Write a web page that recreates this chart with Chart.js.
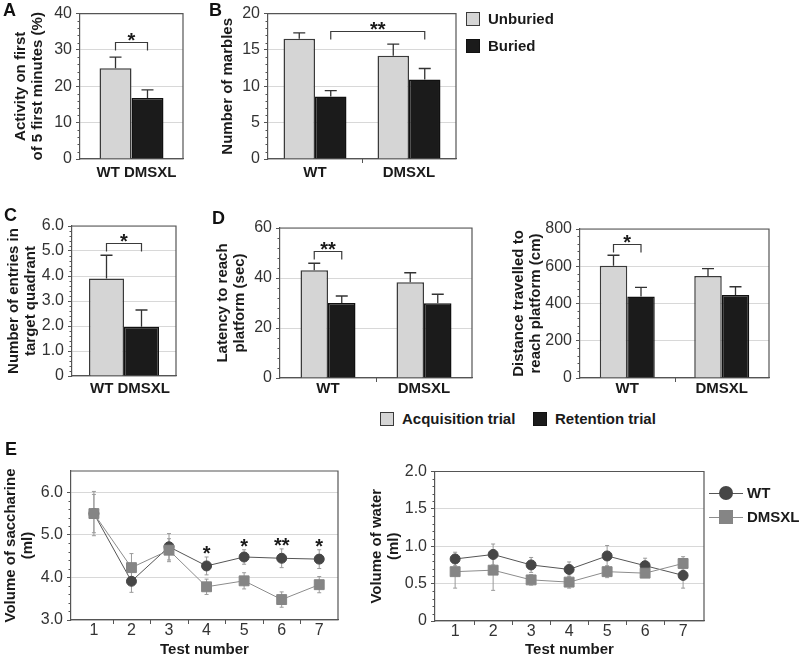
<!DOCTYPE html>
<html>
<head>
<meta charset="utf-8">
<script src="https://cdn.jsdelivr.net/npm/chart.js@4.4.1/dist/chart.umd.min.js"></script>
<style>
  body { margin: 0; width: 800px; height: 659px; overflow: hidden; position: relative; background: #fff;
         font-family: "Liberation Sans", Arial, Helvetica, sans-serif; }
  canvas { position: absolute; }
  .letter { position: absolute; font-weight: bold; font-size: 18px; line-height: 20px; color: #111; }
  .leg { position: absolute; display: flex; align-items: center; height: 18px; line-height: 18px;
         font-weight: bold; font-size: 15px; color: #1a1a1a; white-space: nowrap; }
  .sw { display: inline-block; width: 14px; height: 14px; box-sizing: border-box; margin-right: 8px; }
  .leg svg { margin-right: 4px; }
</style>
</head>
<body>
<script>
// ---- data ----
const groups = ['WT', 'DMSXL'];

// A: activity on first of 5 first minutes (%)
const activity = [25.0, 16.8];
const activityErr = [3.0, 2.2];

// B: marble burying
const marbleSeries = ['Unburied', 'Buried'];
const unburied = [16.55, 14.2];
const unburiedErr = [0.8, 1.6];
const buried = [8.6, 10.95];
const buriedErr = [0.8, 1.5];

// C: entries in target quadrant
const entries = [3.9, 1.97];
const entriesErr = [0.93, 0.67];

// D: water maze
const trialSeries = ['Acquisition trial', 'Retention trial'];
const latencyAcq = [43.1, 38.3];
const latencyAcqErr = [2.8, 3.8];
const latencyRet = [30.0, 29.9];
const latencyRetErr = [2.8, 3.6];
const distAcq = [603, 548];
const distAcqErr = [56, 39];
const distRet = [437, 446];
const distRetErr = [50, 44];

// E: saccharine / water intake
const tests = [1, 2, 3, 4, 5, 6, 7];
const sacchWT = [5.5, 3.91, 4.72, 4.27, 4.48, 4.45, 4.43];
const sacchWTErr = [0.52, 0.26, 0.31, 0.21, 0.17, 0.22, 0.22];
const sacchDM = [5.5, 4.23, 4.64, 3.78, 3.92, 3.48, 3.83];
const sacchDMErr = [0.45, 0.33, 0.27, 0.18, 0.19, 0.18, 0.19];
const sacchSig = ['', '', '', '*', '*', '**', '*'];
const waterWT = [0.83, 0.89, 0.75, 0.69, 0.87, 0.74, 0.61];
const waterWTErr = [0.09, 0.14, 0.1, 0.1, 0.14, 0.1, 0.17];
const waterDM = [0.66, 0.68, 0.55, 0.52, 0.66, 0.64, 0.77];
const waterDMErr = [0.22, 0.27, 0.07, 0.08, 0.08, 0.05, 0.09];

// ---- styling ----
const LIGHT = '#d5d5d5', DARK = '#1b1b1b', EDGE = '#3a3a3a', GRID = '#d8d8d8', AXIS = '#555';
const WT_PT = '#464646', DM_PT = '#858585';
Chart.defaults.font.family = '"Liberation Sans", Arial, Helvetica, sans-serif';
Chart.defaults.color = '#333';

// frame (top/right) plus minor tick marks
const framePlugin = {
  id: 'frame',
  afterDraw(chart) {
    const { ctx, chartArea: a, scales } = chart;
    ctx.save();
    ctx.strokeStyle = AXIS;
    ctx.lineWidth = 1.2;
    ctx.beginPath();
    ctx.moveTo(a.left, a.top);
    ctx.lineTo(a.right, a.top);
    ctx.lineTo(a.right, a.bottom);
    ctx.stroke();
    ctx.lineWidth = 1;
    ctx.beginPath();
    const yt = scales.y.ticks;
    for (let i = 0; i + 1 < yt.length; i++) {
      for (let k = 1; k < 5; k++) {
        const py = Math.round(scales.y.getPixelForValue(yt[i].value + (yt[i + 1].value - yt[i].value) * k / 5)) + 0.5;
        ctx.moveTo(a.left - 2.5, py);
        ctx.lineTo(a.left, py);
      }
    }
    const x = scales.x;
    for (let i = 0; i + 1 < x.ticks.length; i++) {
      const px = Math.round((x.getPixelForTick(i) + x.getPixelForTick(i + 1)) / 2) + 0.5;
      ctx.moveTo(px, a.bottom);
      ctx.lineTo(px, a.bottom + 4);
    }
    ctx.stroke();
    ctx.restore();
  }
};

function errorBarsPlugin(capHalf, color, both) {
  const hook = both ? 'beforeDatasetsDraw' : 'afterDatasetsDraw';
  return {
    id: 'errorBars',
    [hook](chart) {
      const ctx = chart.ctx, y = chart.scales.y;
      ctx.save();
      ctx.strokeStyle = color;
      ctx.lineWidth = both ? 1 : 1.3;
      ctx.beginPath();
      chart.data.datasets.forEach((ds, di) => {
        if (!ds.errors) return;
        chart.getDatasetMeta(di).data.forEach((el, i) => {
          const raw = ds.data[i];
          const v = typeof raw === 'object' ? raw.y : raw;
          const hi = y.getPixelForValue(v + ds.errors[i]);
          const lo = both ? y.getPixelForValue(v - ds.errors[i]) : el.y;
          ctx.moveTo(el.x, lo); ctx.lineTo(el.x, hi);
          ctx.moveTo(el.x - capHalf, hi); ctx.lineTo(el.x + capHalf, hi);
          if (both) { ctx.moveTo(el.x - capHalf, lo); ctx.lineTo(el.x + capHalf, lo); }
        });
      });
      ctx.stroke();
      ctx.restore();
    }
  };
}

// significance brackets between two bars, at a value level
function bracketPlugin(items) {
  return {
    id: 'brackets',
    afterDatasetsDraw(chart) {
      const ctx = chart.ctx, y = chart.scales.y;
      ctx.save();
      ctx.strokeStyle = '#3a3a3a';
      ctx.lineWidth = 1.2;
      ctx.fillStyle = '#1a1a1a';
      ctx.font = 'bold 20px "Liberation Sans", Arial, sans-serif';
      ctx.textAlign = 'center';
      ctx.textBaseline = 'alphabetic';
      items.forEach(b => {
        const x1 = chart.getDatasetMeta(b.from[0]).data[b.from[1]].x;
        const x2 = chart.getDatasetMeta(b.to[0]).data[b.to[1]].x;
        const py = Math.round(y.getPixelForValue(b.level)) + 0.5;
        ctx.beginPath();
        ctx.moveTo(x1, py + 8); ctx.lineTo(x1, py); ctx.lineTo(x2, py); ctx.lineTo(x2, py + 8);
        ctx.stroke();
        ctx.fillText(b.text, (x1 + x2) / 2, py + 4);
      });
      ctx.restore();
    }
  };
}

// stars above one series' error bars (panel E)
function starsPlugin(marks, dsIndex) {
  return {
    id: 'stars',
    afterDatasetsDraw(chart) {
      const ctx = chart.ctx, y = chart.scales.y;
      const ds = chart.data.datasets[dsIndex];
      const meta = chart.getDatasetMeta(dsIndex);
      ctx.save();
      ctx.fillStyle = '#1a1a1a';
      ctx.font = 'bold 20px "Liberation Sans", Arial, sans-serif';
      ctx.textAlign = 'center';
      marks.forEach((m, i) => {
        if (!m) return;
        const top = y.getPixelForValue(ds.data[i].y + ds.errors[i]);
        ctx.fillText(m, meta.data[i].x, top + 3);
      });
      ctx.restore();
    }
  };
}

function yScale(min, max, step, title, titlePad, fmt) {
  return {
    min: min, max: max,
    ticks: { stepSize: step, includeBounds: false, color: '#333', font: { size: 16 }, padding: 4,
             callback: fmt || (v => v) },
    grid: { color: GRID, lineWidth: 1, tickColor: AXIS, tickLength: 4 },
    border: { color: AXIS, width: 1.2 },
    title: { display: true, text: title, color: '#1a1a1a',
             font: { size: 15, weight: 'bold', lineHeight: 1.15 }, padding: { top: titlePad, bottom: 0 } }
  };
}

function catScale(pad, labelOffset) {
  return {
    grid: { display: false, drawTicks: false },
    border: { color: AXIS, width: 1.2 },
    ticks: { color: '#1a1a1a', font: { size: 15, weight: 'bold' }, padding: pad, labelOffset: labelOffset || 0 }
  };
}

function testScale(min, max) {
  return {
    type: 'linear', min: min, max: max,
    afterBuildTicks: s => { s.ticks = tests.map(v => ({ value: v })); },
    grid: { display: false, drawTicks: false },
    border: { color: AXIS, width: 1.2 },
    ticks: { color: '#333', font: { size: 16 }, padding: 1 },
    title: { display: true, text: 'Test number', color: '#1a1a1a',
             font: { size: 15, weight: 'bold' }, padding: { top: 0, bottom: 0 } }
  };
}

const oneDec = v => (v === 0 ? '0' : v.toFixed(1));

function barSet(label, data, errors, light) {
  return {
    label: label, data: data, errors: errors,
    backgroundColor: light ? LIGHT : DARK,
    borderColor: light ? EDGE : '#111',
    borderWidth: 1.5
  };
}

function panel(box, plot, cfg) {
  const c = document.createElement('canvas');
  c.width = box.w; c.height = box.h;
  c.style.left = box.x + 'px'; c.style.top = box.y + 'px';
  document.body.appendChild(c);
  cfg.options.responsive = false;
  cfg.options.animation = false;
  cfg.options.layout = { padding: { top: plot.t - box.y, right: box.x + box.w - plot.r, left: 0, bottom: 0 } };
  cfg.options.plugins = { legend: { display: false }, tooltip: { enabled: false } };
  cfg.options.scales.y.afterFit = s => { s.width = plot.l - box.x; };
  cfg.options.scales.x.afterFit = s => { s.height = box.y + box.h - plot.b; };
  return new Chart(c, cfg);
}

function letter(t, x, yc) {
  const d = document.createElement('div');
  d.className = 'letter';
  d.textContent = t;
  d.style.left = x + 'px';
  d.style.top = (yc - 10) + 'px';
  document.body.appendChild(d);
}

function boxLegend(chart, x, yc, dx, dy) {
  chart.data.datasets.forEach((ds, i) => {
    const d = document.createElement('div');
    d.className = 'leg';
    d.style.left = (x + dx * i) + 'px';
    d.style.top = (yc + dy * i - 9) + 'px';
    const sw = document.createElement('span');
    sw.className = 'sw';
    sw.style.background = ds.backgroundColor;
    sw.style.border = '1.5px solid ' + ds.borderColor;
    d.appendChild(sw);
    d.appendChild(document.createTextNode(ds.label));
    document.body.appendChild(d);
  });
}

function lineLegend(chart, x, yc, dy) {
  chart.data.datasets.forEach((ds, i) => {
    const d = document.createElement('div');
    d.className = 'leg';
    d.style.left = x + 'px';
    d.style.top = (yc + dy * i - 9) + 'px';
    const mark = ds.pointStyle === 'rect'
      ? '<rect x="10" y="2" width="14" height="14" fill="' + ds.pointBackgroundColor + '"/>'
      : '<circle cx="17" cy="9" r="7" fill="' + ds.pointBackgroundColor + '"/>';
    d.innerHTML = '<svg width="34" height="18"><line x1="0" y1="9.5" x2="34" y2="9.5" stroke="' +
      ds.borderColor + '" stroke-width="1.2"/>' + mark + '</svg>';
    d.appendChild(document.createTextNode(ds.label));
    document.body.appendChild(d);
  });
}

// ---- A ----
panel({ x: 0, y: 0, w: 200, h: 190 }, { l: 80, t: 10.5, r: 183, b: 159 }, {
  type: 'bar',
  data: {
    labels: [groups.join(' ')],
    datasets: [
      barSet(groups[0], [activity[0]], [activityErr[0]], true),
      barSet(groups[1], [activity[1]], [activityErr[1]], false)
    ]
  },
  options: {
    barPercentage: 1, categoryPercentage: 0.621,
    scales: {
      x: catScale(5, 5),
      y: yScale(0, 40, 10, ['Activity on first', 'of 5 first minutes (%)'], 12.4)
    }
  },
  plugins: [framePlugin, errorBarsPlugin(6, '#333', false),
            bracketPlugin([{ from: [0, 0], to: [1, 0], level: 32.2, text: '*' }])]
});

// ---- B ----
const chartB = panel({ x: 190, y: 0, w: 280, h: 190 }, { l: 268, t: 10.5, r: 456, b: 159 }, {
  type: 'bar',
  data: {
    labels: groups,
    datasets: [
      barSet(marbleSeries[0], unburied, unburiedErr, true),
      barSet(marbleSeries[1], buried, buriedErr, false)
    ]
  },
  options: {
    barPercentage: 1, categoryPercentage: 0.67,
    scales: {
      x: catScale(5),
      y: yScale(0, 20, 5, 'Number of marbles', 29.4)
    }
  },
  plugins: [framePlugin, errorBarsPlugin(6, '#333', false),
            bracketPlugin([{ from: [1, 0], to: [1, 1], level: 17.6, text: '**' }])]
});

// ---- C ----
panel({ x: 0, y: 200, w: 195, h: 200 }, { l: 72, t: 226, r: 176, b: 376 }, {
  type: 'bar',
  data: {
    labels: [groups.join(' ')],
    datasets: [
      barSet(groups[0], [entries[0]], [entriesErr[0]], true),
      barSet(groups[1], [entries[1]], [entriesErr[1]], false)
    ]
  },
  options: {
    barPercentage: 1, categoryPercentage: 0.673,
    scales: {
      x: catScale(4, 6),
      y: yScale(0, 6, 1, ['Number of entries in', 'target quadrant'], 5.4, oneDec)
    }
  },
  plugins: [framePlugin, errorBarsPlugin(6, '#333', false),
            bracketPlugin([{ from: [0, 0], to: [1, 0], level: 5.32, text: '*' }])]
});

// ---- D (latency) ----
const chartD = panel({ x: 195, y: 200, w: 290, h: 200 }, { l: 280, t: 228, r: 472, b: 378 }, {
  type: 'bar',
  data: {
    labels: groups,
    datasets: [
      barSet(trialSeries[0], latencyAcq, latencyAcqErr, true),
      barSet(trialSeries[1], latencyRet, latencyRetErr, false)
    ]
  },
  options: {
    barPercentage: 1, categoryPercentage: 0.573,
    scales: {
      x: catScale(2),
      y: yScale(0, 60, 20, ['Latency to reach', 'platform (sec)'], 19.4)
    }
  },
  plugins: [framePlugin, errorBarsPlugin(6, '#333', false),
            bracketPlugin([{ from: [0, 0], to: [1, 0], level: 50.8, text: '**' }])]
});

// ---- D (distance) ----
panel({ x: 488, y: 200, w: 305, h: 200 }, { l: 580, t: 229, r: 769, b: 378 }, {
  type: 'bar',
  data: {
    labels: groups,
    datasets: [
      barSet(trialSeries[0], distAcq, distAcqErr, true),
      barSet(trialSeries[1], distRet, distRetErr, false)
    ]
  },
  options: {
    barPercentage: 1, categoryPercentage: 0.582,
    scales: {
      x: catScale(2),
      y: yScale(0, 800, 200, ['Distance travelled to', 'reach platform (cm)'], 22.4)
    }
  },
  plugins: [framePlugin, errorBarsPlugin(6, '#333', false),
            bracketPlugin([{ from: [0, 0], to: [1, 0], level: 719, text: '*' }])]
});

// ---- E ----
function lineSets(wt, wtErr, dm, dmErr) {
  return [
    { label: 'WT', data: tests.map((t, i) => ({ x: t, y: wt[i] })), errors: wtErr, order: 1,
      borderColor: '#555', borderWidth: 1, pointStyle: 'circle', pointRadius: 5,
      pointBackgroundColor: WT_PT, pointBorderColor: WT_PT, pointBorderWidth: 1 },
    { label: 'DMSXL', data: tests.map((t, i) => ({ x: t, y: dm[i] })), errors: dmErr, order: 0,
      borderColor: '#8c8c8c', borderWidth: 1, pointStyle: 'rect', pointRadius: 7,
      pointBackgroundColor: DM_PT, pointBorderColor: DM_PT, pointBorderWidth: 1 }
  ];
}

panel({ x: 0, y: 440, w: 355, h: 219 }, { l: 71, t: 471, r: 338, b: 620 }, {
  type: 'line',
  data: { datasets: lineSets(sacchWT, sacchWTErr, sacchDM, sacchDMErr) },
  options: {
    scales: {
      x: testScale(0.39, 7.5),
      y: yScale(3, 6.5, 1, ['Volume of saccharine', '(ml)'], 2.4, oneDec)
    }
  },
  plugins: [framePlugin, errorBarsPlugin(2, '#9a9a9a', true), starsPlugin(sacchSig, 0)]
});

const chartE2 = panel({ x: 358, y: 440, w: 360, h: 219 }, { l: 435, t: 471.5, r: 704, b: 621 }, {
  type: 'line',
  data: { datasets: lineSets(waterWT, waterWTErr, waterDM, waterDMErr) },
  options: {
    scales: {
      x: testScale(0.47, 7.55),
      y: yScale(0, 2, 0.5, ['Volume of water', '(ml)'], 10.4, oneDec)
    }
  },
  plugins: [framePlugin, errorBarsPlugin(2, '#9a9a9a', true)]
});

// ---- legends and panel letters ----
boxLegend(chartB, 466, 19, 0, 27);
boxLegend(chartD, 380, 419, 153, 0);
lineLegend(chartE2, 709, 493, 24);

letter('A', 3, 10);
letter('B', 209, 10);
letter('C', 4, 215);
letter('D', 212, 218);
letter('E', 5, 449);
</script>
</body>
</html>
